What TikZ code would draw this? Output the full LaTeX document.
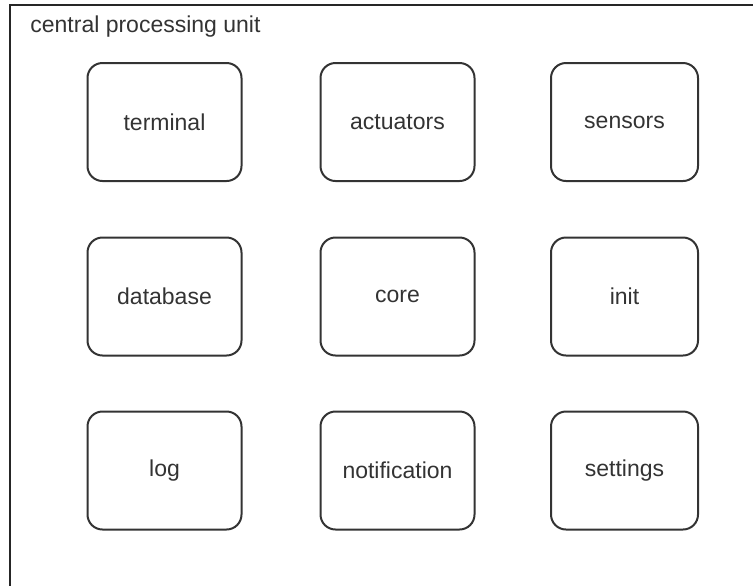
\documentclass[tikz,border=0pt]{standalone}
\usepackage{fontspec}
\setmainfont{Liberation Sans}
\begin{document}
\begin{tikzpicture}[x=0.5pt,y=-0.5pt,
    module/.style={draw=black!80, line width=1pt, rounded corners=7.5pt,
      minimum width=77pt, minimum height=59pt, inner sep=0pt,
      text=black!80, font=\fontsize{11.5}{13}\selectfont}]
  \useasboundingbox (0,0) rectangle (753,585);
  \clip (0,0) rectangle (753,585);
  % outer frame, runs off to the right and bottom
  \draw[line width=1pt, black!85] (10,5) rectangle (780,620);
  \node[anchor=base west, inner sep=0pt, text=black!80,
    font=\fontsize{11.5}{13}\selectfont] (cpu) at (30,32) {central processing unit};
  \draw
    (164.5,122) node[module] (terminal){terminal}
    (397.5,122) node[module] (actuators){actuators}
    (624.5,122) node[module, minimum width=73.5pt] (sensors){sensors}
    (164.5,296.5) node[module] (database){database}
    (397.5,296.5) node[module] (core){core}
    (624.5,296.5) node[module, minimum width=73.5pt] (init){init}
    (164.5,470.5) node[module] (log){log}
    (397.5,470.5) node[module] (notification){notification}
    (624.5,470.5) node[module, minimum width=73.5pt] (settings){settings};
\end{tikzpicture}
\end{document}
